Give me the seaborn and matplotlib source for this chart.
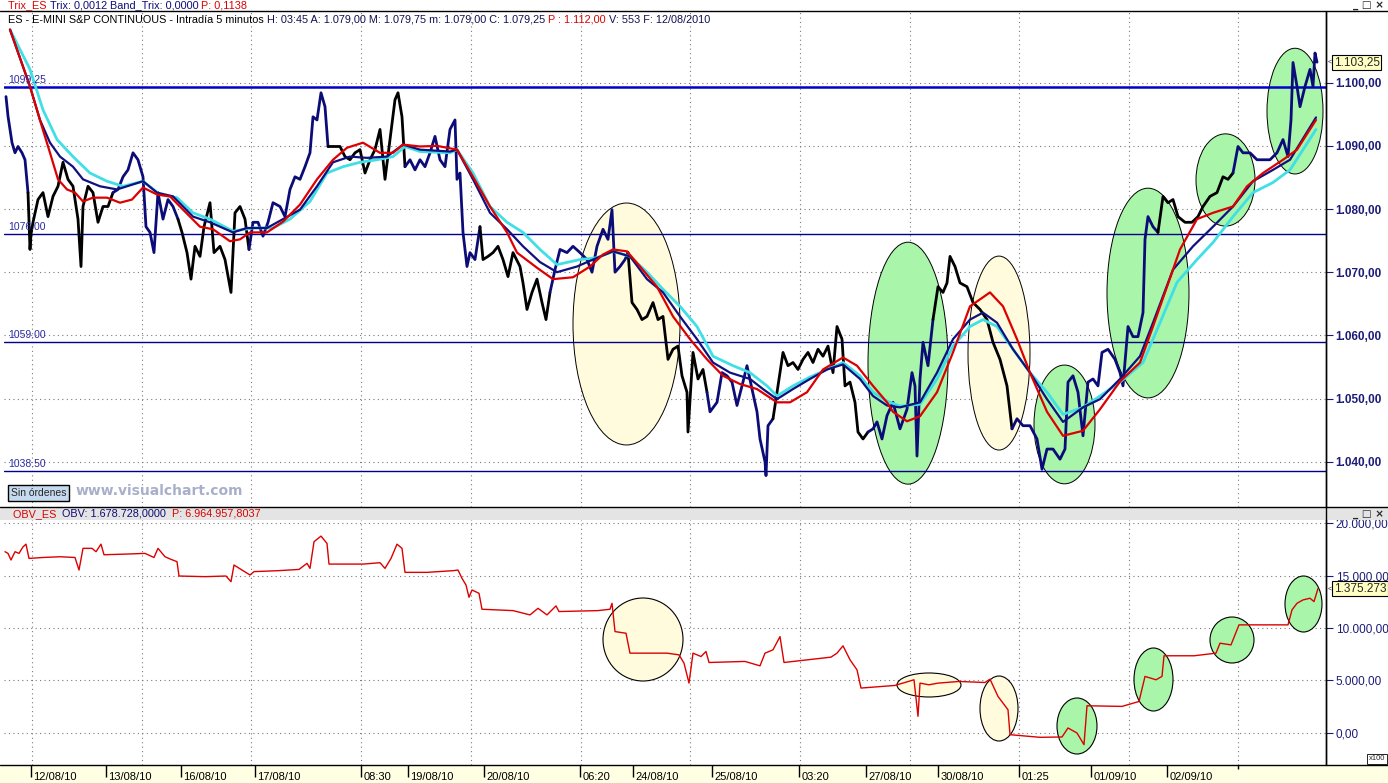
import numpy as np
import pandas as pd
import matplotlib
matplotlib.use('Agg')
import matplotlib.pyplot as plt
import seaborn as sns
from matplotlib.patches import Ellipse, Rectangle
from matplotlib.lines import Line2D
from matplotlib.text import Annotation

# ---------------- datos ----------------
# precio ES (barra, cierre)
price_bar = [6, 8, 12, 15, 18, 22, 25, 28, 30, 31, 33, 38, 43, 48, 53, 58, 63, 68, 73, 78,
             81, 83, 88, 93, 98, 103, 108, 113, 118, 123, 128, 133, 138, 143, 146, 150, 154, 158, 163, 168,
             173, 178, 182, 187, 191, 195, 200, 204, 210, 214, 220, 225, 231, 235, 240, 245, 249, 253, 258, 263,
             268, 273, 280, 285, 290, 295, 300, 305, 310, 313, 317, 321, 325, 328, 333, 340, 345, 350, 355, 360,
             365, 370, 375, 380, 385, 390, 395, 398, 402, 405, 410, 415, 420, 425, 430, 435, 440, 445, 450, 455,
             457, 460, 463, 467, 470, 475, 480, 483, 488, 493, 498, 503, 508, 513, 520, 523, 527, 532, 537, 542,
             546, 550, 555, 560, 567, 573, 580, 587, 592, 597, 603, 608, 612, 615, 620, 625, 628, 632, 637, 642,
             647, 653, 658, 663, 668, 673, 678, 682, 687, 688, 693, 698, 703, 707, 710, 717, 722, 727, 732, 737,
             742, 747, 752, 757, 760, 765, 766, 768, 773, 778, 783, 788, 793, 798, 803, 808, 813, 818, 823, 828,
             833, 837, 842, 845, 850, 855, 858, 863, 868, 873, 877, 882, 887, 893, 900, 907, 912, 915, 917, 920,
             923, 928, 933, 938, 943, 947, 950, 955, 960, 967, 973, 980, 987, 993, 1000, 1007, 1012, 1017, 1023, 1030,
             1037, 1042, 1047, 1053, 1060, 1065, 1068, 1073, 1078, 1083, 1088, 1093, 1098, 1102, 1108, 1115, 1120, 1123, 1128, 1133,
             1138, 1143, 1145, 1148, 1153, 1158, 1163, 1168, 1173, 1178, 1185, 1192, 1198, 1203, 1210, 1217, 1223, 1228, 1233, 1238,
             1243, 1250, 1257, 1263, 1270, 1277, 1283, 1288, 1291, 1293, 1297, 1300, 1305, 1310, 1313, 1315, 1317]
price_val = [1097.8, 1094.7, 1090.5, 1088.9, 1089.9, 1088.9, 1087.8, 1082.6, 1073.6, 1076.0, 1077.9, 1081.5, 1082.6, 1078.8, 1082.0, 1083.6, 1087.4, 1084.7, 1083.6, 1078.4,
             1070.9, 1080.4, 1083.6, 1082.6, 1077.9, 1080.4, 1080.4, 1082.6, 1083.1, 1085.1, 1086.2, 1088.9, 1087.8, 1085.1, 1077.2, 1076.3, 1073.1, 1082.6, 1078.4, 1081.5,
             1080.4, 1078.4, 1076.3, 1073.1, 1068.9, 1074.1, 1072.5, 1077.2, 1081.0, 1073.1, 1074.1, 1072.0, 1066.8, 1079.4, 1080.4, 1078.4, 1073.6, 1077.9, 1077.9, 1075.7,
             1077.9, 1081.0, 1080.4, 1078.8, 1083.1, 1085.1, 1084.7, 1086.7, 1088.9, 1094.6, 1094.1, 1098.4, 1096.2, 1089.9, 1089.9, 1089.9, 1088.3, 1087.8, 1088.9, 1089.4,
             1085.7, 1087.8, 1089.4, 1092.6, 1084.7, 1091.0, 1097.3, 1098.4, 1094.6, 1086.7, 1087.8, 1086.2, 1087.8, 1086.7, 1088.9, 1091.5, 1087.8, 1086.7, 1092.6, 1094.1,
             1084.7, 1085.7, 1076.3, 1070.9, 1073.1, 1072.0, 1077.2, 1072.0, 1072.5, 1073.1, 1074.1, 1072.0, 1069.3, 1073.1, 1070.9, 1068.3, 1064.1, 1066.8, 1068.9, 1065.2,
             1062.5, 1066.8, 1070.4, 1073.6, 1073.1, 1074.1, 1073.1, 1072.0, 1070.0, 1074.1, 1076.8, 1075.2, 1079.9, 1070.0, 1070.9, 1072.0, 1073.1, 1065.2, 1064.1, 1062.5,
             1063.0, 1065.2, 1062.5, 1063.0, 1056.2, 1057.8, 1058.3, 1053.6, 1051.0, 1044.7, 1057.3, 1053.1, 1054.6, 1051.0, 1047.9, 1049.4, 1054.1, 1053.6, 1052.6, 1048.9,
             1052.0, 1055.2, 1051.5, 1047.9, 1043.6, 1040.0, 1037.8, 1045.7, 1046.8, 1052.0, 1057.3, 1055.2, 1055.7, 1054.6, 1056.2, 1057.3, 1055.7, 1057.8, 1056.7, 1058.3,
             1054.1, 1061.4, 1059.4, 1052.0, 1052.6, 1049.4, 1044.7, 1043.6, 1044.7, 1045.2, 1046.3, 1043.6, 1047.3, 1049.4, 1045.2, 1048.3, 1054.1, 1052.0, 1040.9, 1053.1,
             1058.9, 1055.2, 1062.5, 1067.7, 1066.8, 1068.3, 1072.5, 1070.9, 1068.3, 1067.7, 1065.2, 1064.1, 1062.5, 1058.9, 1056.2, 1052.0, 1045.2, 1046.8, 1045.7, 1045.7,
             1043.6, 1038.8, 1042.0, 1042.0, 1040.4, 1042.0, 1052.6, 1053.6, 1051.0, 1044.1, 1052.6, 1053.1, 1052.0, 1057.3, 1057.8, 1056.2, 1054.1, 1052.0, 1061.4, 1059.8,
             1059.8, 1063.6, 1075.2, 1078.8, 1077.2, 1076.3, 1082.0, 1081.0, 1081.5, 1078.8, 1077.9, 1077.9, 1078.8, 1080.4, 1082.0, 1082.6, 1085.1, 1084.7, 1085.7, 1089.9,
             1088.9, 1088.9, 1087.8, 1087.8, 1087.8, 1088.9, 1091.0, 1088.3, 1094.1, 1103.2, 1099.4, 1096.2, 1099.4, 1102.1, 1099.4, 1104.7, 1103.25]

# barras donde el Trix cambia de signo (azul <-> negro)
trix_switch = [30, 118, 180, 253, 333, 407, 483, 555, 630, 710, 777, 870, 937, 1013, 1163, 1238]

# medias moviles
red_bar = [10, 30, 42, 50, 58, 67, 75, 83, 93, 107, 120, 132, 143, 157, 170, 183, 200, 213, 230, 240,
           250, 267, 283, 300, 317, 333, 347, 363, 380, 393, 403, 420, 437, 457, 473, 490, 507, 517, 537, 553,
           573, 590, 603, 613, 627, 640, 657, 673, 690, 707, 723, 740, 757, 777, 790, 807, 823, 843, 857, 873,
           887, 893, 907, 920, 937, 953, 970, 990, 1003, 1017, 1030, 1047, 1063, 1083, 1100, 1120, 1140, 1153, 1167, 1180,
           1197, 1213, 1233, 1247, 1263, 1283, 1297, 1316]
red_val = [1108.4, 1099.4, 1093.0, 1088.9, 1084.7, 1083.1, 1082.6, 1081.2, 1081.8, 1081.8, 1081.0, 1081.5, 1083.4, 1082.3, 1082.0, 1079.9, 1077.2, 1076.8, 1074.9, 1075.2,
           1076.3, 1076.3, 1078.0, 1080.7, 1084.7, 1087.8, 1089.7, 1090.5, 1088.9, 1088.9, 1090.2, 1089.9, 1090.0, 1089.4, 1085.1, 1080.4, 1076.3, 1073.1, 1070.7, 1068.9,
           1069.2, 1070.9, 1072.8, 1073.6, 1073.3, 1070.9, 1067.7, 1063.0, 1059.4, 1056.2, 1053.6, 1052.3, 1051.5, 1049.4, 1049.4, 1051.0, 1054.6, 1056.5, 1055.2, 1052.0,
           1049.4, 1047.9, 1046.4, 1047.2, 1051.0, 1057.3, 1064.6, 1066.8, 1064.6, 1059.4, 1054.1, 1047.9, 1044.1, 1044.9, 1048.3, 1052.7, 1055.7, 1061.4, 1067.7, 1073.6,
           1078.4, 1079.4, 1080.4, 1083.6, 1085.7, 1087.8, 1089.4, 1094.1]

navy_bar = [10, 30, 40, 50, 60, 73, 83, 100, 117, 133, 143, 157, 173, 193, 210, 233, 247, 267, 283, 300,
            317, 333, 350, 367, 387, 403, 420, 450, 457, 473, 490, 507, 523, 540, 557, 577, 593, 613, 630, 647,
            663, 680, 697, 713, 730, 750, 763, 777, 793, 810, 827, 843, 860, 873, 887, 900, 920, 937, 953, 970,
            983, 997, 1013, 1030, 1047, 1063, 1083, 1100, 1120, 1140, 1153, 1173, 1193, 1213, 1233, 1253, 1273, 1290, 1316]
navy_val = [1108.4, 1099.4, 1094.1, 1090.5, 1088.3, 1086.7, 1084.7, 1083.6, 1083.1, 1083.9, 1084.4, 1082.6, 1082.0, 1078.8, 1077.9, 1076.3, 1077.0, 1077.0, 1078.4, 1079.9,
            1083.6, 1087.4, 1088.3, 1088.1, 1088.3, 1090.2, 1089.4, 1089.1, 1089.4, 1084.7, 1079.4, 1076.8, 1074.1, 1071.6, 1070.0, 1070.9, 1072.0, 1073.3, 1072.5, 1068.9,
            1066.8, 1063.0, 1059.4, 1055.7, 1054.1, 1053.1, 1051.5, 1049.9, 1051.5, 1053.1, 1054.6, 1055.4, 1053.1, 1050.4, 1048.9, 1048.6, 1049.4, 1054.1, 1059.4, 1062.5,
            1063.6, 1062.0, 1057.8, 1054.1, 1049.9, 1046.3, 1048.6, 1049.9, 1053.1, 1056.7, 1062.0, 1070.4, 1074.1, 1077.2, 1080.4, 1084.4, 1086.2, 1087.8, 1094.5]

cyan_bar = [10, 30, 43, 57, 73, 90, 107, 123, 143, 160, 177, 193, 210, 233, 253, 273, 290, 310, 327, 343,
            360, 377, 393, 405, 420, 450, 457, 473, 490, 507, 523, 540, 557, 580, 597, 613, 630, 647, 663, 680,
            697, 713, 733, 750, 767, 777, 793, 810, 827, 843, 860, 873, 887, 900, 920, 937, 953, 970, 983, 997,
            1013, 1030, 1047, 1063, 1083, 1100, 1120, 1143, 1160, 1177, 1197, 1213, 1233, 1253, 1273, 1290, 1316]
cyan_val = [1108.4, 1102.1, 1095.7, 1091.0, 1088.3, 1085.7, 1084.4, 1083.6, 1084.4, 1082.3, 1081.8, 1079.4, 1078.4, 1076.5, 1077.0, 1077.0, 1078.4, 1081.2, 1085.7, 1086.7,
            1087.4, 1087.8, 1088.3, 1089.9, 1089.1, 1088.9, 1089.4, 1085.7, 1080.4, 1077.9, 1076.3, 1073.6, 1071.2, 1072.0, 1072.3, 1073.3, 1072.5, 1070.0, 1067.3, 1064.6,
            1061.4, 1056.7, 1055.2, 1054.1, 1052.0, 1050.4, 1052.0, 1053.4, 1054.6, 1055.7, 1053.6, 1051.0, 1049.6, 1048.8, 1049.1, 1053.1, 1058.3, 1061.4, 1062.5, 1061.4,
            1057.8, 1054.1, 1051.0, 1047.5, 1048.6, 1050.4, 1052.6, 1055.7, 1062.0, 1068.4, 1072.0, 1074.7, 1078.8, 1082.6, 1084.2, 1086.2, 1092.6]

# OBV (escala x100)
obv_bar = [5, 8, 11, 15, 19, 23, 26, 29, 43, 60, 75, 79, 83, 92, 96, 101, 104, 128, 145, 154,
           158, 165, 171, 177, 179, 205, 226, 231, 234, 241, 250, 254, 278, 299, 307, 310, 314, 321, 327, 329,
           363, 380, 385, 391, 397, 402, 405, 427, 453, 458, 462, 466, 469, 472, 479, 482, 513, 530, 538, 547,
           556, 559, 598, 610, 612, 615, 626, 630, 667, 679, 684, 689, 693, 701, 706, 709, 745, 760, 765, 773,
           780, 784, 831, 837, 843, 850, 857, 861, 895, 914, 918, 920, 929, 938, 959, 985, 990, 998, 1008, 1010,
           1040, 1062, 1068, 1077, 1084, 1087, 1122, 1139, 1145, 1156, 1162, 1164, 1194, 1216, 1220, 1231, 1239, 1288, 1292, 1297,
           1303, 1310, 1314, 1318]
obv_val = [17270, 17110, 16480, 17270, 17110, 17730, 17990, 16630, 16720, 16790, 16720, 15520, 17590, 17590, 17270, 17990, 16980, 17050, 17110, 16720,
           17590, 16790, 16540, 16320, 14950, 14890, 14950, 14410, 16000, 15580, 15050, 15370, 15460, 15580, 16160, 15680, 18220, 18760, 18060, 16090,
           16090, 16220, 15680, 16630, 17990, 17590, 15300, 15300, 15460, 15520, 14730, 14090, 12920, 13620, 13300, 11780, 11650, 11240, 11870, 11240,
           12100, 11560, 11650, 11780, 12350, 9650, 9490, 7590, 7590, 7430, 6640, 4730, 7590, 7270, 7750, 6700, 6800, 6380, 7590, 7910,
           9170, 6700, 7210, 7590, 8290, 6960, 6000, 4260, 4510, 5050, 1560, 4730, 4570, 4730, 4890, 4790, 5110, 3460, 2190, -190,
           -440, -410, 450, -30, -1140, 2570, 2510, 2980, 5370, 5050, 5370, 7340, 7340, 7590, 8540, 8380, 10290, 10290, 11720, 12350,
           12670, 12830, 12510, 13752.73]

levels = [1099.25, 1076.00, 1059.00, 1038.50]
level_lbl = ['1099.25', '1076.00', '1059.00', '1038.50']
price_ticks = [1040, 1050, 1060, 1070, 1080, 1090, 1100]
obv_ticks = [0, 5000, 10000, 15000, 20000]

date_pos = [31, 106, 181, 255, 361, 408, 484, 580, 633, 712, 799, 866, 938, 1019, 1091, 1167]
date_lbl = ['12/08/10', '13/08/10', '16/08/10', '17/08/10', '08:30', '19/08/10', '20/08/10', '06:20',
            '24/08/10', '25/08/10', '03:20', '27/08/10', '30/08/10', '01:25', '01/09/10', '02/09/10']
grid_x = [32, 142, 251, 361, 471, 581, 690, 800, 910, 1019, 1129, 1238]

# zonas marcadas: (barra centro, valor centro, ancho, alto, tipo)
zones_top = [(626.5, 1061.8, 107, 38.3, 'y'), (908, 1055.6, 80, 38.3, 'g'), (999, 1057.2, 62, 30.7, 'y'),
             (1064.5, 1045.9, 61, 18.8, 'g'), (1148, 1066.7, 82, 33.2, 'g'), (1225.5, 1084.6, 59, 14.6, 'g'),
             (1295, 1095.5, 56, 19.9, 'g')]
zones_obv = [(643, 8893, 80, 7920, 'y'), (929, 4552, 64, 2290, 'y'), (999, 2309, 38, 6202, 'y'),
             (1077, 639, 40, 5343, 'g'), (1153.5, 5076, 39, 6011, 'g'), (1232, 8846, 44, 4389, 'g'),
             (1303.5, 12280, 37, 5343, 'g')]

# ---------------- figura ----------------
sns.set_style('white')
plt.rcParams['font.family'] = ['Liberation Sans', 'DejaVu Sans']

W, H = 1388, 783
NAVY = '#0c0c78'
TXT = '#1c1c78'
RED = '#dd0000'
fill = {'y': '#fffbdc', 'g': '#a9f5a9'}


def fx(x):
    return x / W


def fy(y):
    return 1 - y / H


def es(v, d=2):
    s = f"{v:,.{d}f}"
    return s.replace(',', 'X').replace('.', ',').replace('X', '.')


def header(x, y, parts, size=7.8):
    t = fig.text(fx(x), fy(y), parts[0][0], color=parts[0][1], fontsize=size, va='center', zorder=12)
    for s, c in parts[1:]:
        a = Annotation(s, xy=(1, 0), xycoords=t, va='bottom', ha='left', color=c, fontsize=size)
        a.set_zorder(12)
        fig.add_artist(a)
        t = a


fig = plt.figure(figsize=(W / 100, H / 100), dpi=100)
fig.patch.set_facecolor('white')

ax_top = fig.add_axes([fx(4), fy(507), (1326 - 4) / W, (507 - 12) / H])
ax_bot = fig.add_axes([fx(4), fy(765), (1326 - 4) / W, (765 - 520) / H])
ax_strip = fig.add_axes([0, 0, 1, 18 / H])

# --- panel de precio ---
df = pd.DataFrame({'bar': price_bar, 'price': price_val})
seg = np.searchsorted(trix_switch, df['bar'].values, side='right')
for k in np.unique(seg):
    idx = np.where(seg == k)[0]
    lo = max(idx[0] - 1, 0)
    part = df.iloc[lo:idx[-1] + 1]
    sns.lineplot(data=part, x='bar', y='price', ax=ax_top, sort=False, estimator=None,
                 color=NAVY if k % 2 == 0 else 'black', lw=2.0, zorder=3)

sns.lineplot(x=cyan_bar, y=cyan_val, ax=ax_top, sort=False, estimator=None, color='#3ee0e6', lw=2.0, zorder=4)
sns.lineplot(x=navy_bar, y=navy_val, ax=ax_top, sort=False, estimator=None, color='#10107e', lw=1.6, zorder=4)
sns.lineplot(x=red_bar, y=red_val, ax=ax_top, sort=False, estimator=None, color=RED, lw=1.6, zorder=4)

for cx, cy, w, h, kind in zones_top:
    ax_top.add_patch(Ellipse((cx, cy), w, h, fc=fill[kind], ec='black', lw=0.7, zorder=1.5))

for lv, lb in zip(levels, level_lbl):
    thick = lv == levels[0]
    ax_top.axhline(lv, color='#0000cc' if thick else '#00008c', lw=1.8 if thick else 1.0, zorder=2)
    ax_top.annotate(lb, xy=(8, lv), xytext=(0, 1.5), textcoords='offset points',
                    va='bottom', ha='left', fontsize=7.5, color='#2a2aa0', zorder=5)

ax_top.set_xlim(4, 1326)
ax_top.set_ylim(1032.83, 1111.19)
ax_top.set_yticks(price_ticks)
ax_top.set_yticklabels([es(v) for v in price_ticks], fontweight='bold')

last_price = price_val[-1]
ax_top.annotate(es(last_price), xy=(1, last_price), xycoords=('axes fraction', 'data'),
                xytext=(5.5, 0), textcoords='offset points', va='center', ha='left', fontsize=8.5,
                bbox=dict(boxstyle='square,pad=0.12', fc='#ffffc4', ec='black', lw=0.8),
                annotation_clip=False)
ax_top.annotate('<', xy=(1, last_price), xycoords=('axes fraction', 'data'),
                xytext=(1, 0), textcoords='offset points', va='center', ha='left', fontsize=5,
                annotation_clip=False)

# --- panel OBV ---
sns.lineplot(x=obv_bar, y=obv_val, ax=ax_bot, sort=False, estimator=None, color=RED, lw=1.0, zorder=3)
for cx, cy, w, h, kind in zones_obv:
    ax_bot.add_patch(Ellipse((cx, cy), w, h, fc=fill[kind], ec='black', lw=0.8, zorder=1.5))

ax_bot.set_xlim(4, 1326)
ax_bot.set_ylim(-3082, 20296)
ax_bot.set_yticks(obv_ticks)
ax_bot.set_yticklabels([es(v) for v in obv_ticks])

last_obv = obv_val[-1]
ax_bot.annotate(f"{round(last_obv * 100):,}".replace(',', '.'), xy=(1, last_obv),
                xycoords=('axes fraction', 'data'), xytext=(5.5, 0), textcoords='offset points',
                va='center', ha='left', fontsize=8.5,
                bbox=dict(boxstyle='square,pad=0.12', fc='#ffffc4', ec='black', lw=0.8),
                annotation_clip=False)
ax_bot.annotate('<', xy=(1, last_obv), xycoords=('axes fraction', 'data'),
                xytext=(1, 0), textcoords='offset points', va='center', ha='left', fontsize=5,
                annotation_clip=False)

for ax in (ax_top, ax_bot):
    ax.set_xlabel('')
    ax.set_ylabel('')
    ax.set_facecolor('white')
    ax.set_xticks(grid_x)
    ax.set_axisbelow(True)
    ax.grid(True, linestyle=(0, (1, 3)), color='#7a7a7a', lw=0.8)
    ax.yaxis.tick_right()
    ax.tick_params(axis='x', length=0, labelbottom=False)
    ax.tick_params(axis='y', direction='out', length=5, width=0.8, color=TXT,
                   labelcolor=TXT, labelsize=8.5, pad=2)
    for side in ('left', 'top', 'bottom'):
        ax.spines[side].set_visible(False)
    ax.spines['right'].set_color('black')
    ax.spines['right'].set_linewidth(1.0)

# --- eje de fechas ---
ax_strip.set_facecolor('#ffffe3')
ax_strip.set_xlim(0, W)
ax_strip.set_ylim(0, 1)
ax_strip.set_xticks([])
ax_strip.set_yticks([])
for side in ax_strip.spines:
    ax_strip.spines[side].set_visible(False)
ax_strip.vlines(date_pos, 0.35, 1, color='black', lw=1)
ax_strip.vlines([1238], 0.8, 1, color='black', lw=1)
for p, lb in zip(date_pos, date_lbl):
    ax_strip.text(p + 2.5, 0.33, lb, fontsize=8, va='center', ha='left', color='black')

# --- marcos y cabeceras ---
fig.add_artist(Rectangle((0, fy(520)), 1, 13 / H, transform=fig.transFigure,
                         fc='#e4e4e4', ec='none', zorder=10))
for yy in (11, 507, 765):
    fig.add_artist(Line2D([0, 1], [fy(yy), fy(yy)], color='black', lw=1.0,
                          transform=fig.transFigure, zorder=11))
fig.add_artist(Line2D([fx(1326), fx(1326)], [fy(11), fy(765)], color='black', lw=1.0,
                      transform=fig.transFigure, zorder=11))

header(8, 5, [('Trix_ES ', RED), ('Trix: 0,0012 ', NAVY), ('Band_Trix: 0,0000 ', NAVY), ('P: 0,1138', RED)])
header(8, 20, [('ES - E-MINI S&P CONTINUOUS - Intradía 5 minutos ', 'black'),
               ('H: 03:45 A: 1.079,00 M: 1.079,75 m: 1.079,00 C: 1.079,25 ', '#101050'),
               ('P : 1.112,00 ', RED), ('V: 553 F: 12/08/2010', '#101050')])
header(13, 514, [('OBV_ES  ', RED), ('OBV: 1.678.728,0000  ', NAVY), ('P: 6.964.957,8037', RED)])

for yy in (5, 514):
    fig.text(fx(1353), fy(yy), '_ □ ×', fontsize=7.5, fontweight='bold', va='center',
             family='DejaVu Sans', zorder=12)

fig.text(fx(11), fy(493), 'Sin órdenes', fontsize=7.5, va='center', ha='left', zorder=12,
         bbox=dict(boxstyle='square,pad=0.25', fc='#c6daef', ec='black', lw=1.0))
fig.text(fx(76), fy(491), 'www.visualchart.com', fontsize=10, fontweight='bold', va='center',
         ha='left', color='#a8afcb', family='DejaVu Sans', zorder=12)
fig.text(fx(1369), fy(759), 'x100', fontsize=5.5, va='center', ha='left', zorder=12,
         bbox=dict(boxstyle='square,pad=0.2', fc='white', ec='black', lw=0.6))

fig.savefig('out.png', dpi=100)
